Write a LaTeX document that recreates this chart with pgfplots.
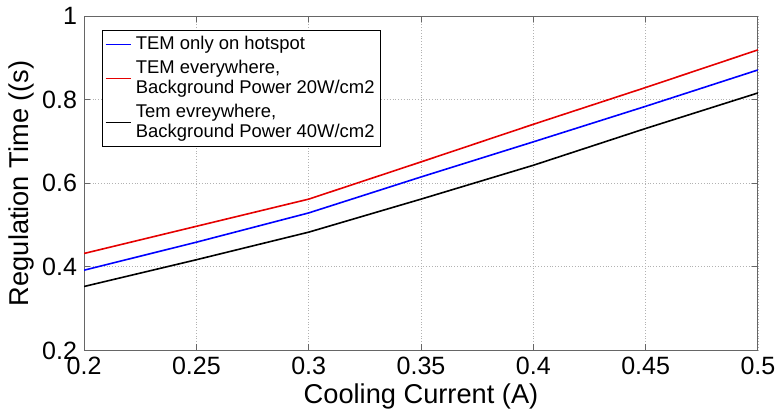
\documentclass[border=0pt]{standalone}
\usepackage{pgfplots}
\pgfplotsset{compat=1.18}
\usepackage{fontspec}
\setmainfont{Liberation Sans}
\begin{document}
\begin{tikzpicture}
\path[use as bounding box] (-42pt,-30pt) rectangle (346.5pt,175pt);
\begin{axis}[
  at={(0,0)}, anchor=south west,
  scale only axis, width=336.5pt, height=167pt,
  xmin=0.2, xmax=0.5, ymin=0.2, ymax=1,
  xtick={0.2,0.25,...,0.5}, ytick={0.2,0.4,...,1.0},
  xticklabels={0.2,0.25,0.3,0.35,0.4,0.45,0.5},
  yticklabels={0.2,0.4,0.6,0.8,1},
  tick align=inside, tick pos=both,
  major tick length=3pt,
  axis line style={gray!80!black, line width=0.5pt},
  tick style={gray!80!black, line width=0.5pt},
  grid=major,
  major grid style={densely dotted, gray!60, line width=0.4pt},
  /pgf/number format/assume math mode=true,
  tick label style={font=\fontsize{12.5}{14}\selectfont},
  xticklabel style={yshift=0pt},
  label style={font=\fontsize{13.6}{15}\selectfont},
  xlabel={Cooling Current (A)},
  ylabel={Regulation Time ((s)},
  xlabel style={yshift=2.5pt},
  ylabel style={yshift=-3pt},
  legend cell align=left,
  legend style={at={(0.027,0.958)}, anchor=north west,
    font=\fontsize{9.2}{10.3}\selectfont, draw=black,
    inner sep=1pt, row sep=-0.5pt,
    nodes={align=left}},
  legend image code/.code={\draw[mark repeat=2,mark phase=2,#1] plot coordinates {(0cm,0cm) (0.225cm,0cm) (0.45cm,0cm)};},
]
\addplot[color=blue, line width=0.8pt] coordinates {(0.2,0.392) (0.25,0.459) (0.3,0.529) (0.35,0.615) (0.4,0.699) (0.45,0.784) (0.5,0.871)};
\addlegendentry{TEM only on hotspot}
\addplot[color=red!90!black, line width=0.8pt] coordinates {(0.2,0.432) (0.25,0.497) (0.3,0.562) (0.35,0.651) (0.4,0.741) (0.45,0.829) (0.5,0.919)};
\addlegendentry{TEM everywhere,\\Background Power 20W/cm2}
\addplot[color=black, line width=0.8pt] coordinates {(0.2,0.353) (0.25,0.417) (0.3,0.483) (0.35,0.562) (0.4,0.643) (0.45,0.731) (0.5,0.816)};
\addlegendentry{Tem evreywhere,\\Background Power 40W/cm2}
\end{axis}
\end{tikzpicture}
\end{document}
